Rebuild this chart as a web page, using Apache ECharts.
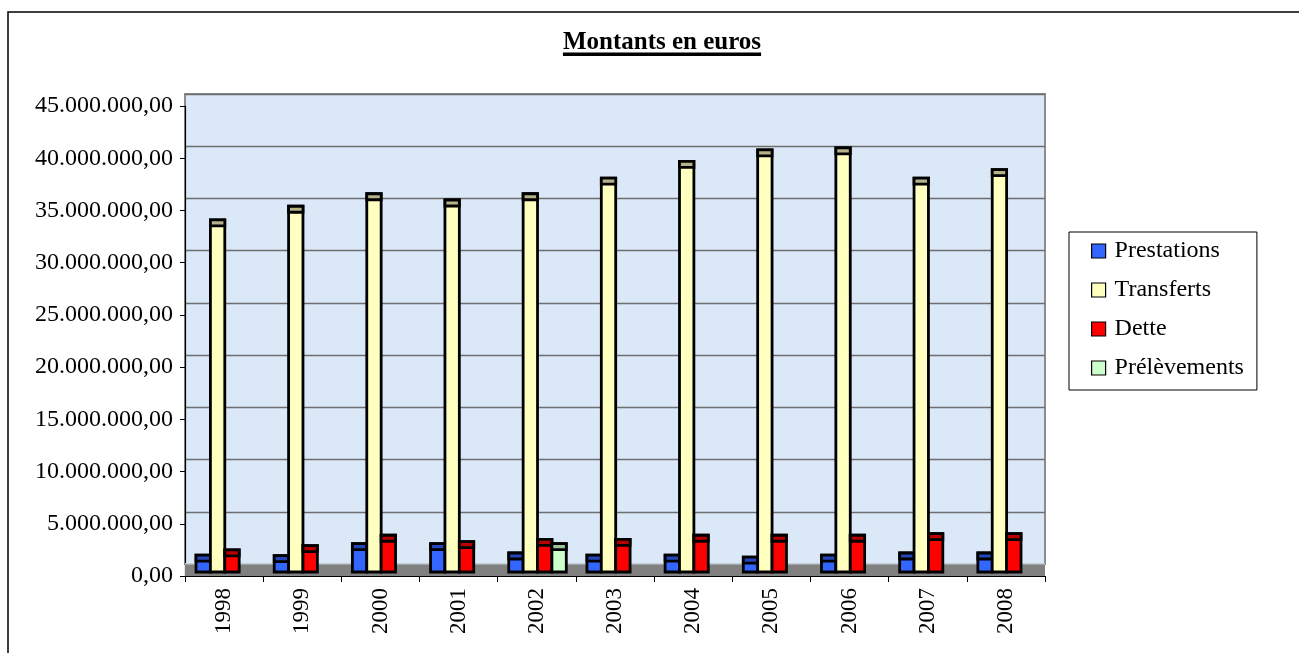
<!DOCTYPE html>
<html>
<head>
<meta charset="utf-8">
<script src="https://cdn.jsdelivr.net/npm/echarts@6/dist/echarts.min.js"></script>
<style>
  html, body { margin: 0; padding: 0; background: #fff; }
  #chart { width: 1299px; height: 653px; }
</style>
</head>
<body>
<div id="chart"></div>
<script>
// years on the x axis
const years = ['1998', '1999', '2000', '2001', '2002', '2003', '2004', '2005', '2006', '2007', '2008'];

// amounts in euros
const prestations  = [2000000, 1950000, 3100000, 3100000, 2200000, 2000000, 2000000, 1800000, 2000000, 2200000, 2200000];
const transferts   = [34100000, 35400000, 36600000, 36000000, 36600000, 38100000, 39700000, 40800000, 41000000, 38100000, 38900000];
const dette        = [2500000, 2900000, 3900000, 3300000, 3500000, 3500000, 3900000, 3900000, 3900000, 4050000, 4050000];
const prelevements = [null, null, null, null, 3100000, null, null, null, null, null, null];

const seriesNames = ['Prestations', 'Transferts', 'Dette', 'Prélèvements'];
const faceColors = ['#3366ff', '#ffffc0', '#ff0000', '#ccffcc'];
const capColors  = ['#2446b8', '#b5b28a', '#b80000', '#9cc79c'];

const SERIF = '"Liberation Serif", "Times New Roman", serif';
const BAR_W = 0.184;     // width of one bar, part of a category
const BAR_OFF = 0.141;   // gap before the first bar
const CAP = 6;           // height of the darker top face
const LIFT = 4;          // bars stand on the floor, a little above the axis

const chart = echarts.init(document.getElementById('chart'));

function fmtEuro(v) {
  return String(Math.round(v)).replace(/\B(?=(\d{3})+(?!\d))/g, '.') + ',00';
}

function makeRender(slot) {
  return function (params, api) {
    const v = api.value(1);
    if (v == null || isNaN(v)) return;
    const top = api.coord([api.value(0), v]);
    const base = api.coord([api.value(0), 0]);
    const band = api.size([1, 0])[0];
    const w = band * BAR_W;
    const x = top[0] - band / 2 + band * BAR_OFF + slot * w;
    const h = base[1] - LIFT - top[1];
    return {
      type: 'group',
      children: [
        { type: 'rect', shape: { x: x, y: top[1], width: w, height: h },
          style: { fill: faceColors[slot], stroke: '#000', lineWidth: 2.8 } },
        { type: 'rect', shape: { x: x, y: top[1], width: w, height: CAP },
          style: { fill: capColors[slot], stroke: '#000', lineWidth: 2.8 } }
      ]
    };
  };
}

const allData = [prestations, transferts, dette, prelevements];

// underline width for the title
const cv = document.createElement('canvas').getContext('2d');
cv.font = 'bold 25px ' + SERIF;
const titleText = 'Montants en euros';
const titleW = cv.measureText(titleText).width;

chart.setOption({
  animation: false,
  backgroundColor: '#fff',
  graphic: [
    { type: 'rect', z: 0, shape: { x: 8, y: 12, width: 1400, height: 800 },
      style: { fill: 'none', stroke: '#000', lineWidth: 1.5 } },
    { type: 'text', z: 5, x: 662, y: 30,
      style: { text: titleText, font: 'bold 25px ' + SERIF, fill: '#000', textAlign: 'center' } },
    { type: 'rect', z: 5, shape: { x: 662 - titleW / 2, y: 52.5, width: titleW, height: 3.5 },
      style: { fill: '#000' } },
    // floor of the 3D plot
    { type: 'rect', z: 1, shape: { x: 185, y: 564, width: 860, height: 12 },
      style: { fill: '#808080' } },
    { type: 'rect', z: 1, shape: { x: 185, y: 563, width: 860, height: 1.5 },
      style: { fill: '#c4ccd6' } }
  ],
  legend: {
    orient: 'vertical',
    left: 1069, top: 232,
    padding: [7, 13, 10, 22],
    itemGap: 15,
    itemWidth: 14, itemHeight: 14,
    backgroundColor: '#fff',
    borderColor: '#000', borderWidth: 1,
    borderRadius: 0,
    textStyle: { fontFamily: SERIF, fontSize: 24, color: '#000', padding: [0, 0, 0, 4] },
    itemStyle: { borderColor: '#000', borderWidth: 1.2 },
    data: seriesNames.map(n => ({ name: n, icon: 'rect' }))
  },
  grid: [
    // back wall, drawn a little higher than the front axis
    { left: 185, right: 254, top: 94, bottom: 89, show: true,
      backgroundColor: '#dae8f8', borderColor: '#8c8c8c', borderWidth: 2 },
    // front plane with the axes and the bars
    { left: 185, right: 254, top: 106, bottom: 77 }
  ],
  xAxis: [
    { type: 'category', gridIndex: 0, data: years, show: false },
    { type: 'category', gridIndex: 1, data: years,
      axisLine: { lineStyle: { color: '#000', width: 1.2 } },
      axisTick: { show: true, length: 6, lineStyle: { color: '#000' } },
      axisLabel: { rotate: 90, margin: 12, fontFamily: SERIF, fontSize: 23, color: '#000' } }
  ],
  yAxis: [
    { type: 'value', gridIndex: 0, min: 0, max: 45000000, interval: 5000000,
      axisLine: { show: false }, axisTick: { show: false }, axisLabel: { show: false },
      splitLine: { show: true, lineStyle: { color: '#6e6e6e', width: 1.3 } } },
    { type: 'value', gridIndex: 1, min: 0, max: 45000000, interval: 5000000,
      axisLine: { show: true, lineStyle: { color: '#000', width: 1.2 } },
      axisTick: { show: true, length: 5, inside: false, lineStyle: { color: '#000' } },
      splitLine: { show: false },
      axisLabel: { margin: 12, fontFamily: SERIF, fontSize: 24, color: '#000', formatter: fmtEuro } }
  ],
  series: seriesNames.map((name, i) => ({
    name: name,
    type: 'custom',
    xAxisIndex: 1, yAxisIndex: 1,
    z: 3,
    itemStyle: { color: faceColors[i], borderColor: '#000', borderWidth: 1.2 },
    renderItem: makeRender(i),
    encode: { x: 0, y: 1 },
    data: allData[i].map((v, k) => [k, v])
  }))
});
</script>
</body>
</html>
